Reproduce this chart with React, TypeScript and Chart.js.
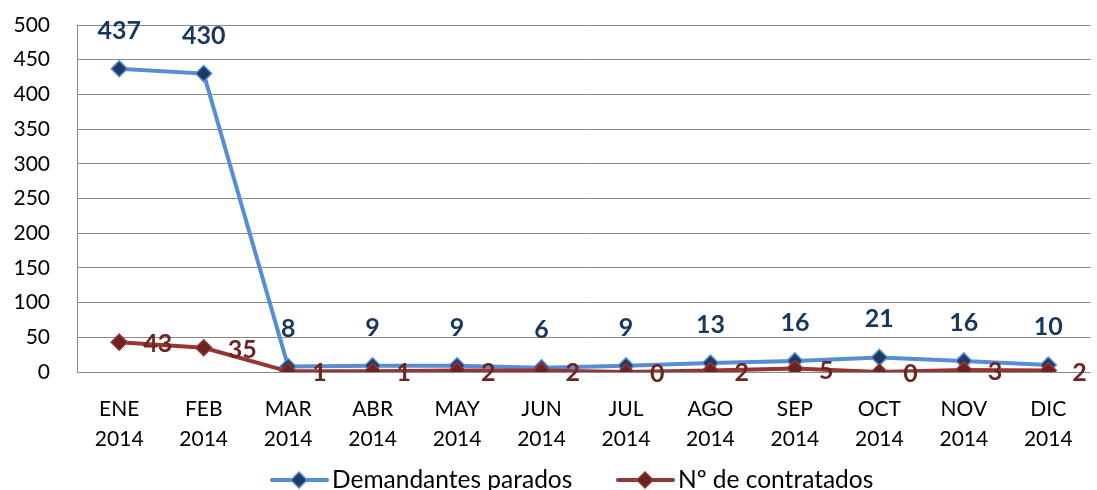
import React, { useEffect, useRef } from "react";
import { Chart, registerables } from "chart.js";

Chart.register(...registerables);

const months = ["ENE", "FEB", "MAR", "ABR", "MAY", "JUN", "JUL", "AGO", "SEP", "OCT", "NOV", "DIC"];
const year = "2014";
const categories = months.map((m) => [m, year]);
const demandantes = [437, 430, 8, 9, 9, 6, 9, 13, 16, 21, 16, 10];
const contratados = [43, 35, 1, 1, 2, 2, 0, 2, 5, 0, 3, 2];
const seriesNames = ["Demandantes parados", "Nº de contratados"];
const yMin = 0;
const yMax = 500;
const yStep = 50;

const FONT = "Lato, 'Open Sans', sans-serif";
const BLUE_LINE = "#558ed5";
const BLUE_FILL = "#1f3a64";
const BLUE_LABEL = "#17375e";
const RED_LINE = "#963634";
const RED_FILL = "#6a2321";
const RED_LABEL = "#6b2624";

const labelPlugin = {
  id: "valueLabels",
  afterDatasetsDraw(chart: any) {
    const ctx = chart.ctx;
    ctx.save();
    ctx.font = `bold 25px ${FONT}`;
    ctx.textBaseline = "middle";
    chart.data.datasets.forEach((ds: any, i: number) => {
      const meta = chart.getDatasetMeta(i);
      meta.data.forEach((pt: any, j: number) => {
        const v = ds.data[j];
        if (i === 0) {
          ctx.fillStyle = BLUE_LABEL;
          ctx.textAlign = "center";
          ctx.fillText(String(v), pt.x, pt.y - 38);
        } else {
          ctx.fillStyle = RED_LABEL;
          ctx.textAlign = "left";
          ctx.fillText(String(v), pt.x + 24, pt.y + 2);
        }
      });
    });
    ctx.restore();
  },
};

const legendPlugin = {
  id: "customLegend",
  afterDraw(chart: any) {
    const ctx = chart.ctx;
    const y = 480;
    const items = [
      { x: 272, line: BLUE_LINE, fill: BLUE_FILL, border: BLUE_LINE, text: seriesNames[0] },
      { x: 618, line: RED_LINE, fill: RED_FILL, border: RED_LINE, text: seriesNames[1] },
    ];
    ctx.save();
    items.forEach((it) => {
      ctx.strokeStyle = it.line;
      ctx.lineWidth = 4;
      ctx.lineCap = "round";
      ctx.beginPath();
      ctx.moveTo(it.x, y);
      ctx.lineTo(it.x + 55, y);
      ctx.stroke();
      const cx = it.x + 27;
      const r = 8;
      ctx.beginPath();
      ctx.moveTo(cx, y - r);
      ctx.lineTo(cx + r, y);
      ctx.lineTo(cx, y + r);
      ctx.lineTo(cx - r, y);
      ctx.closePath();
      ctx.fillStyle = it.fill;
      ctx.fill();
      ctx.lineWidth = 1.5;
      ctx.strokeStyle = it.border;
      ctx.stroke();
      ctx.fillStyle = "#000";
      ctx.font = `24.5px ${FONT}`;
      ctx.textAlign = "left";
      ctx.textBaseline = "middle";
      ctx.fillText(it.text, it.x + 60, y);
    });
    ctx.restore();
  },
};

export default function App() {
  const ref = useRef<HTMLCanvasElement | null>(null);
  useEffect(() => {
    if (!ref.current) return;
    const chart = new Chart(ref.current, {
      type: "line",
      data: {
        labels: categories as any,
        datasets: [
          {
            label: seriesNames[0],
            data: demandantes,
            borderColor: BLUE_LINE,
            backgroundColor: BLUE_FILL,
            borderWidth: 4,
            pointStyle: "rectRot",
            pointRadius: 8,
            pointBackgroundColor: BLUE_FILL,
            pointBorderColor: BLUE_LINE,
            pointBorderWidth: 1.5,
            tension: 0,
            order: 1,
          },
          {
            label: seriesNames[1],
            data: contratados,
            borderColor: RED_LINE,
            backgroundColor: RED_FILL,
            borderWidth: 4,
            pointStyle: "rectRot",
            pointRadius: 8,
            pointBackgroundColor: RED_FILL,
            pointBorderColor: RED_LINE,
            pointBorderWidth: 1.5,
            tension: 0,
            order: 0,
          },
        ],
      },
      options: {
        responsive: false,
        animation: false,
        layout: { padding: { top: 25, bottom: 48, left: 0, right: 0 } },
        plugins: {
          legend: { display: false },
          tooltip: { enabled: false },
        },
        scales: {
          x: {
            offset: true,
            grid: { display: false, drawTicks: false },
            border: { display: false },
            ticks: {
              color: "#000",
              font: { family: FONT, size: 21, lineHeight: 1.43 },
              padding: 22,
              maxRotation: 0,
              autoSkip: false,
            },
            afterFit: (s: any) => {
              s.height = 80;
              s.paddingLeft = 0;
              s.paddingRight = 0;
            },
          },
          y: {
            min: yMin,
            max: yMax,
            grid: { color: "#8a8a8a", lineWidth: 1, drawTicks: false },
            border: { display: true, color: "#8a8a8a" },
            ticks: {
              stepSize: yStep,
              color: "#000",
              font: { family: FONT, size: 21 },
              padding: 27,
            },
            afterFit: (s: any) => {
              s.width = 77;
              s.paddingTop = 0;
              s.paddingBottom = 0;
            },
          },
        },
      },
      plugins: [labelPlugin, legendPlugin],
    });
    return () => chart.destroy();
  }, []);
  return (
    <div
      style={{
        position: "fixed",
        left: 0,
        top: 0,
        width: 1097,
        height: 490,
        overflow: "hidden",
        background: "#fff",
      }}
    >
      <canvas ref={ref} width={1100} height={500} style={{ display: "block" }} />
    </div>
  );
}
